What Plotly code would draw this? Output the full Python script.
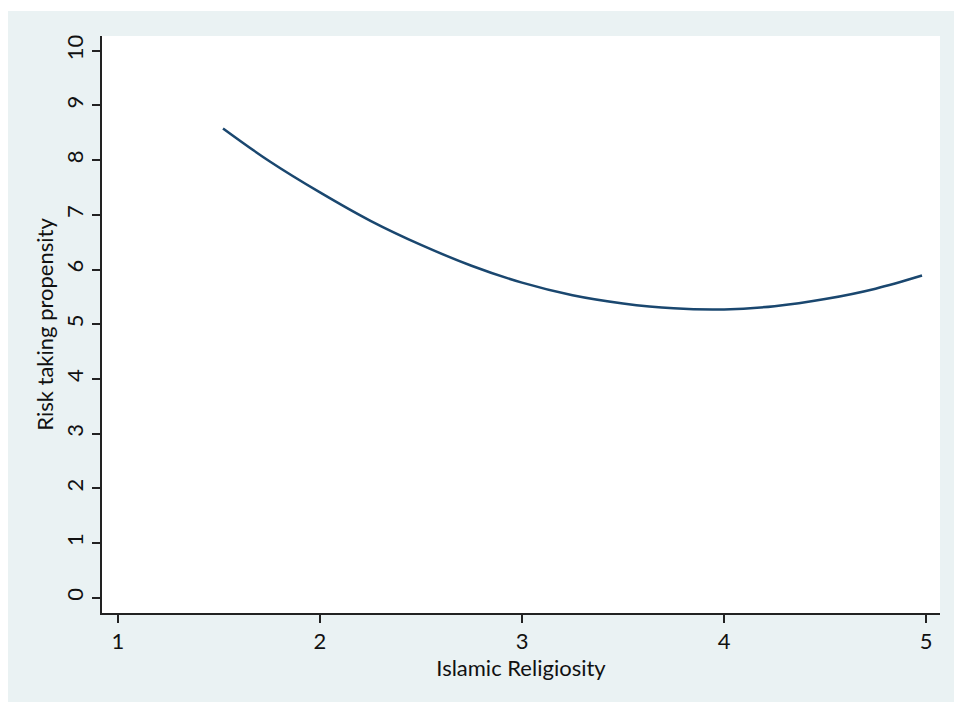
import plotly.graph_objects as go

# Data
religiosity = [1.52, 1.75, 2.0, 2.25, 2.5, 2.75, 3.0, 3.25, 3.5, 3.75, 4.0, 4.25, 4.5, 4.75, 4.98]
risk_taking = [8.58, 7.98, 7.41, 6.89, 6.45, 6.07, 5.76, 5.53, 5.38, 5.29, 5.27, 5.33, 5.46, 5.65, 5.89]

x_ticks = [1, 2, 3, 4, 5]
y_ticks = [0, 1, 2, 3, 4, 5, 6, 7, 8, 9, 10]

BG = "#EAF2F3"
FONT = "Lato"
FS = 22

fig = go.Figure()
fig.add_trace(go.Scatter(
    x=religiosity, y=risk_taking, mode="lines",
    line=dict(color="#1a476f", width=2.5, shape="spline", smoothing=1.0),
    showlegend=False, hoverinfo="skip",
))

fig.update_layout(
    width=954, height=702,
    margin=dict(l=102, r=14, t=36, b=89),
    paper_bgcolor=BG, plot_bgcolor="white",
    font=dict(family=FONT, size=FS, color="#111"),
    shapes=[
        # thin white strips at the top and left edges of the picture
        dict(type="rect", xref="paper", yref="paper", x0=-0.2, x1=1.1, y0=1.0433, y1=1.1,
             fillcolor="white", line=dict(width=0), layer="below"),
        dict(type="rect", xref="paper", yref="paper", x0=-0.2, x1=-0.1122, y0=-0.2, y1=1.1,
             fillcolor="white", line=dict(width=0), layer="below"),
    ],
)

fig.update_xaxes(
    range=[0.921, 5.069], tickvals=x_ticks, ticktext=[str(v) for v in x_ticks],
    showgrid=False, zeroline=False, showline=True, linecolor="#222", linewidth=1.5,
    ticks="outside", ticklen=8, tickwidth=1.5, tickcolor="#222",
    tickfont=dict(family=FONT, size=FS, color="#111"),
    title=dict(text="Islamic Religiosity", font=dict(family=FONT, size=FS, color="#111"), standoff=2),
)
fig.update_yaxes(
    range=[-0.28, 10.27], tickvals=y_ticks, ticktext=[str(v) for v in y_ticks],
    showgrid=False, zeroline=False, showline=True, linecolor="#222", linewidth=1.5,
    ticks="outside", ticklen=8, tickwidth=1.5, tickcolor="#222", tickangle=-90,
    tickfont=dict(family=FONT, size=FS, color="#111"),
    title=dict(text="Risk taking propensity", font=dict(family=FONT, size=FS, color="#111"), standoff=2),
)

fig.write_html(
    "out.html",
    config={"displayModeBar": False},
    post_script=(
        "document.body.style.margin='0';"
        "document.body.style.overflow='hidden';"
        "document.body.style.background='" + BG + "';"
        "document.documentElement.style.background='" + BG + "';"
    ),
)
